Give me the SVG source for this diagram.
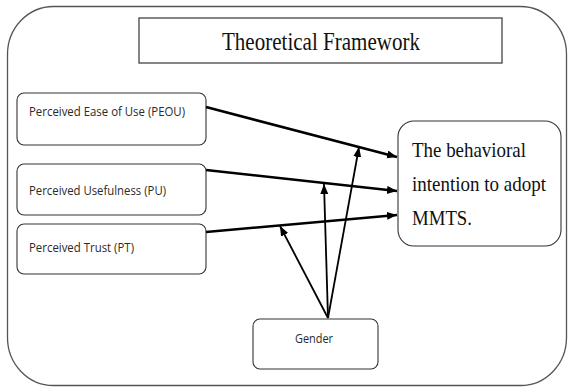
<svg xmlns="http://www.w3.org/2000/svg" width="569" height="388" viewBox="0 0 569 388">
<style>
.box{fill:#fff;stroke:#333;stroke-width:1.1}
.lbl{font-family:"Open Sans","Noto Sans","Liberation Sans",sans-serif;font-size:13.5px;fill:#2a2a2a}
.serif{font-family:"Liberation Serif","Times New Roman",serif;fill:#111}
.main{stroke:#000;stroke-width:2.6;fill:none}
.mod{stroke:#000;stroke-width:1.8;fill:none}
</style>
<defs>
<marker id="ah" markerUnits="userSpaceOnUse" markerWidth="12" markerHeight="10" refX="10" refY="4" orient="auto">
<path d="M0,0 L10,4 L0,8 z" fill="#000"/>
</marker>
</defs>
<rect width="569" height="388" fill="#fff"/>
<g id="frame">
<rect x="7.5" y="6.5" width="559" height="379" rx="46" ry="48" fill="none" stroke="#555" stroke-width="1.3"/>
</g>
<g id="title">
<rect x="139" y="18" width="363" height="45" fill="#fff" stroke="#444" stroke-width="1.3"/>
<text class="serif" x="321" y="50" font-size="26" text-anchor="middle" textLength="198" lengthAdjust="spacingAndGlyphs">Theoretical Framework</text>
</g>
<g id="peou">
<rect class="box" x="17" y="93" width="189" height="52" rx="7"/>
<text class="lbl" x="29" y="116" textLength="156" lengthAdjust="spacingAndGlyphs">Perceived Ease of Use (PEOU)</text>
</g>
<g id="pu">
<rect class="box" x="17" y="164" width="189" height="51" rx="7"/>
<text class="lbl" x="29" y="195" textLength="137" lengthAdjust="spacingAndGlyphs">Perceived Usefulness (PU)</text>
</g>
<g id="pt">
<rect class="box" x="17" y="224" width="189" height="50" rx="7"/>
<text class="lbl" x="29" y="252" textLength="105" lengthAdjust="spacingAndGlyphs">Perceived Trust (PT)</text>
</g>
<g id="intention">
<rect class="box" x="398" y="121" width="163" height="125" rx="16"/>
<text class="serif" x="412" y="157" font-size="22" textLength="114" lengthAdjust="spacingAndGlyphs">The behavioral</text>
<text class="serif" x="412" y="191" font-size="22" textLength="134" lengthAdjust="spacingAndGlyphs">intention to adopt</text>
<text class="serif" x="412" y="225" font-size="22" textLength="60" lengthAdjust="spacingAndGlyphs">MMTS.</text>
</g>
<g id="gender">
<rect class="box" x="253" y="319" width="125" height="50" rx="7"/>
<text class="lbl" x="314" y="343" text-anchor="middle" textLength="38" lengthAdjust="spacingAndGlyphs">Gender</text>
</g>
<g id="connectors">
<line class="main" x1="206" y1="107" x2="397" y2="157" marker-end="url(#ah)"/>
<line class="main" x1="206" y1="170" x2="397" y2="191" marker-end="url(#ah)"/>
<line class="main" x1="206" y1="232" x2="397" y2="215" marker-end="url(#ah)"/>
<line class="mod" x1="328" y1="318" x2="280" y2="226" marker-end="url(#ah)"/>
<line class="mod" x1="328" y1="318" x2="324" y2="184" marker-end="url(#ah)"/>
<line class="mod" x1="328" y1="318" x2="359" y2="147" marker-end="url(#ah)"/>
</g>
</svg>
